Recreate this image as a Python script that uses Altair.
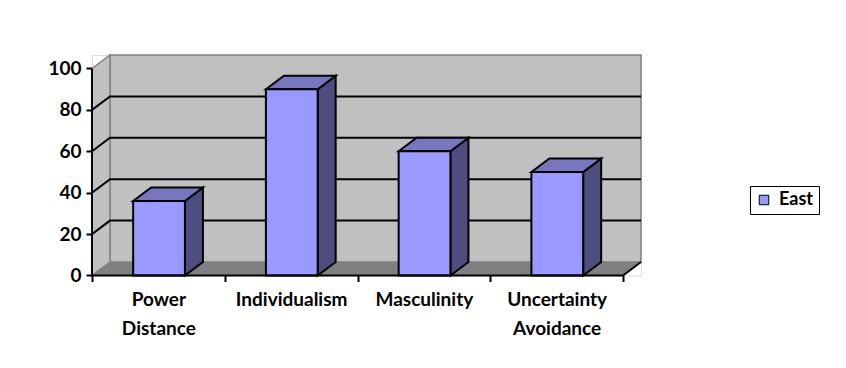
import json
import altair as alt
import pandas as pd

# ---- data ----
categories = ["Power Distance", "Individualism", "Masculinity", "Uncertainty Avoidance"]
label_lines = [["Power", "Distance"], ["Individualism"], ["Masculinity"], ["Uncertainty", "Avoidance"]]
east = [36, 90, 60, 50]
series_name = "East"
y_ticks = [0, 20, 40, 60, 80, 100]
grid_values = [20, 40, 60, 80]

# ---- geometry (styles) ----
PX_PER_CAT = 132.75
PX_PER_UNIT = 2.07
DX = 18 / PX_PER_CAT
DY = 13.5 / PX_PER_UNIT
BAR_L, BAR_R = 0.31, 0.70
N = len(categories)
YMAX = 100
W = (N + DX) * PX_PER_CAT
H = (YMAX + DY) * PX_PER_UNIT

FONT = "Lato"
WALL = "#C0C0C0"
FLOOR = "#808080"
FRONT = "#9999FF"
TOP = "#7777C0"
SIDE = "#4D4D80"

xs = alt.Scale(domain=[0, N + DX], nice=False, zero=False)
ys = alt.Scale(domain=[0, YMAX + DY], nice=False, zero=False)

expr = ""
for i, lines in enumerate(label_lines):
    expr += f"datum.value == {i} ? {json.dumps(lines)} : "
expr += "''"

xaxis = alt.Axis(values=list(range(N + 1)), labelExpr=expr, labelOffset=PX_PER_CAT / 2,
                 labelBound=False, labelOverlap=False, labelFlush=False, domain=False,
                 grid=False, tickColor="black", tickWidth=2, tickSize=6, title=None,
                 labelFont=FONT, labelFontSize=19, labelFontWeight="bold", labelColor="black",
                 labelLineHeight=29, labelPadding=9, labelBaseline="top")
yaxis = alt.Axis(values=y_ticks, domain=False, grid=False, tickColor="black", tickWidth=2,
                 tickSize=6, title=None, labelFont=FONT, labelFontSize=19,
                 labelFontWeight="bold", labelColor="black", labelPadding=5)


def X(f):
    return alt.X(f + ":Q", scale=xs, axis=xaxis)


def Y(f):
    return alt.Y(f + ":Q", scale=ys, axis=yaxis)


# walls
back = pd.DataFrame([{"x": DX, "x2": N + DX, "y": DY, "y2": YMAX + DY}])
back_wall = alt.Chart(back).mark_rect(fill=WALL, stroke=FLOOR, strokeWidth=1.5).encode(
    x=X("x"), x2="x2", y=Y("y"), y2="y2")

left = pd.DataFrame([{"id": "w", "x": 0, "lo": 0, "hi": YMAX},
                     {"id": "w", "x": DX, "lo": DY, "hi": YMAX + DY}])
left_wall = alt.Chart(left).mark_area(fill=WALL, stroke=FLOOR, strokeWidth=1.5).encode(
    x=X("x"), y=Y("hi"), y2="lo", detail="id:N")

floor = pd.DataFrame([{"id": "f", "x": 0, "lo": 0, "hi": 0},
                      {"id": "f", "x": DX, "lo": 0, "hi": DY},
                      {"id": "f", "x": N, "lo": 0, "hi": DY},
                      {"id": "f", "x": N + DX, "lo": DY, "hi": DY}])
floor_area = alt.Chart(floor).mark_area(fill=FLOOR, strokeWidth=0).encode(
    x=X("x"), y=Y("hi"), y2="lo", detail="id:N")

grid_rows = []
for v in grid_values:
    grid_rows += [{"g": v, "k": 0, "x": 0, "y": v},
                  {"g": v, "k": 1, "x": DX, "y": v + DY},
                  {"g": v, "k": 2, "x": N + DX, "y": v + DY}]
grid = alt.Chart(pd.DataFrame(grid_rows)).mark_line(color="black", strokeWidth=2).encode(
    x=X("x"), y=Y("y"), detail="g:N", order="k:Q")

edge_rows = [{"e": "axis", "k": 0, "x": 0, "y": YMAX}, {"e": "axis", "k": 1, "x": 0, "y": 0},
             {"e": "axis", "k": 2, "x": N, "y": 0}, {"e": "axis", "k": 3, "x": N + DX, "y": DY}]
edges = alt.Chart(pd.DataFrame(edge_rows)).mark_line(color="black", strokeWidth=2).encode(
    x=X("x"), y=Y("y"), detail="e:N", order="k:Q")

# bars
side_rows, top_rows, front_rows = [], [], []
for i, (c, v) in enumerate(zip(categories, east)):
    xl, xr = i + BAR_L, i + BAR_R
    side_rows += [{"id": c, "x": xr, "lo": 0, "hi": v},
                  {"id": c, "x": xr + DX, "lo": DY, "hi": v + DY}]
    top_rows += [{"id": c, "x": xl, "lo": v, "hi": v},
                 {"id": c, "x": xl + DX, "lo": v, "hi": v + DY},
                 {"id": c, "x": xr, "lo": v, "hi": v + DY},
                 {"id": c, "x": xr + DX, "lo": v + DY, "hi": v + DY}]
    front_rows.append({"cat": c, "series": series_name, "x": xl, "x2": xr, "y": 0, "y2": v})

side = alt.Chart(pd.DataFrame(side_rows)).mark_area(fill=SIDE, stroke="black", strokeWidth=2,
                                                    strokeJoin="miter").encode(
    x=X("x"), y=Y("hi"), y2="lo", detail="id:N")
top = alt.Chart(pd.DataFrame(top_rows)).mark_area(fill=TOP, stroke="black", strokeWidth=2,
                                                  strokeJoin="miter").encode(
    x=X("x"), y=Y("hi"), y2="lo", detail="id:N")
front = alt.Chart(pd.DataFrame(front_rows)).mark_rect(stroke="black", strokeWidth=2).encode(
    x=X("x"), x2="x2", y=Y("y"), y2="y2",
    color=alt.Color("series:N", scale=alt.Scale(domain=[series_name], range=[FRONT]),
                    legend=alt.Legend(title=None, orient="none", legendX=658, legendY=131,
                                      strokeColor="black", fillColor="white", padding=5,
                                      symbolType="square", symbolSize=90,
                                      symbolStrokeColor="black", symbolStrokeWidth=1,
                                      labelFont=FONT, labelFontSize=18, labelFontWeight="bold",
                                      labelColor="black", labelOffset=6)))

chart = alt.layer(back_wall, left_wall, floor_area, grid, side, top, front, edges).properties(
    width=W, height=H,
    autosize=alt.AutoSizeParams(type="none"),
    padding={"left": 84, "top": 47, "right": 830 - 84 - W, "bottom": 352 - 47 - H},
).configure_view(stroke=None).configure(background="white")

chart.save("out.html", embed_options={"renderer": "svg", "actions": False})
